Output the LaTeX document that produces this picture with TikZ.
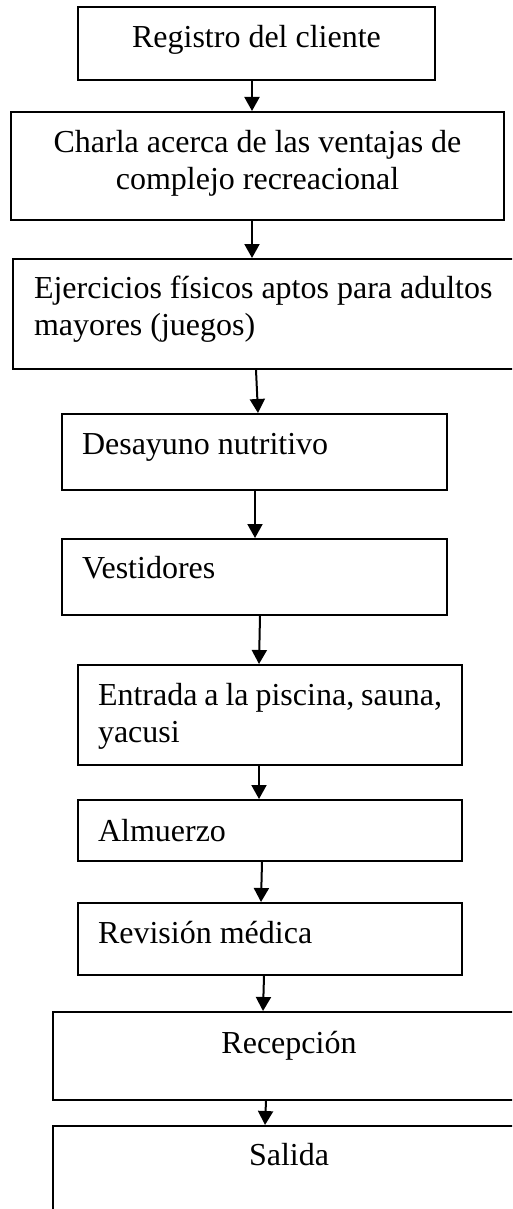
\documentclass[tikz,border=0pt]{standalone}
\usepackage{fontspec}
\setmainfont{Liberation Serif}
\usetikzlibrary{arrows.meta}
\tikzset{box/.style={
        draw, line width=2pt, inner sep=0pt, anchor=north west,
        font=\fontsize{32}{37}\selectfont
    },
    midbox/.style={box, align=flush center},
    leftbox/.style={box, align=flush left, inner xsep=20pt},
    flecha/.style={line width=2pt, -{Triangle[length=14pt,width=15pt]}}
}

\begin{document}
\begin{tikzpicture}[x=1pt, y=-1pt]
        \useasboundingbox (0,0) rectangle (512,1209);
        \clip (0,0) rectangle (512,1209);
        % boxes
        \node[midbox, text width=357pt, text height=41pt, text depth=32pt] (registro) at (77,6) {Registro del cliente};
        \node[midbox, text width=493pt, text height=41pt, text depth=67pt] (charla) at (10,111) {Charla acerca de las ventajas de\\complejo recreacional};
        \node[leftbox, inner xsep=21pt, text width=478pt, text height=39pt, text depth=71pt] (ejercicios) at (12,258) {Ejercicios físicos aptos para adultos\\mayores (juegos)};
        \node[leftbox, text width=345pt, text height=40pt, text depth=36pt] (desayuno) at (61,413) {Desayuno nutritivo};
        \node[leftbox, text width=345pt, text height=39pt, text depth=37pt] (vestidores) at (61,538) {Vestidores};
        \node[leftbox, text width=344pt, text height=40pt, text depth=60pt] (piscina) at (77,664) {Entrada~a~la~piscina,~sauna,\\yacusi};
        \node[leftbox, text width=344pt, text height=41pt, text depth=20pt] (almuerzo) at (77,799) {Almuerzo};
        \node[leftbox, text width=344pt, text height=40pt, text depth=32pt] (revision) at (77,902) {Revisión médica};
        \node[midbox, text width=472pt, text height=41pt, text depth=47pt] (recepcion) at (52,1011) {Recepción};
        \node[midbox, text width=472pt, text height=39pt, text depth=70pt] (salida) at (52,1125) {Salida};
        % arrows
        \draw[flecha] ([xshift=-4.5pt]registro.south) -- ([xshift=-5.5pt]charla.north);
        \draw[flecha] ([xshift=-5.5pt]charla.south) -- ([xshift=-21pt]ejercicios.north);
        \draw[flecha] ([xshift=-17pt]ejercicios.south) -- ([xshift=3.5pt]desayuno.north);
        \draw[flecha] ([xshift=0.5pt]desayuno.south) -- ([xshift=0.5pt]vestidores.north);
        \draw[flecha] ([xshift=5.5pt]vestidores.south) -- ([xshift=-11pt]piscina.north);
        \draw[flecha] ([xshift=-11pt]piscina.south) -- ([xshift=-11pt]almuerzo.north);
        \draw[flecha] ([xshift=-8pt]almuerzo.south) -- ([xshift=-9pt]revision.north);
        \draw[flecha] ([xshift=-6pt]revision.south) -- ([xshift=-26pt]recepcion.north);
        \draw[flecha] ([xshift=-23pt]recepcion.south) -- ([xshift=-24pt]salida.north);
    \end{tikzpicture}
\end{document}
